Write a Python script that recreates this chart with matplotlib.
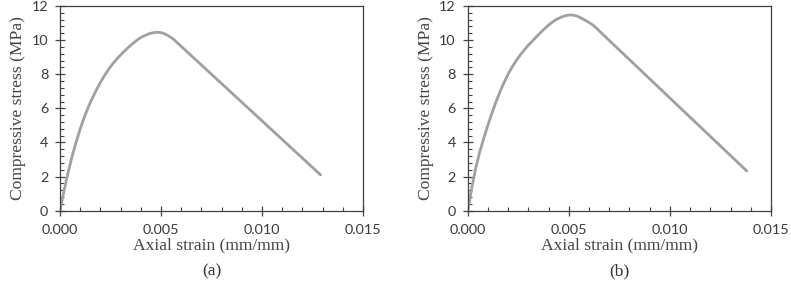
import matplotlib
matplotlib.use('Agg')
import matplotlib.pyplot as plt
from matplotlib.ticker import MultipleLocator, FormatStrFormatter

# panel (a)
strain_a = [0, 0.0002, 0.0004, 0.0006, 0.0008, 0.0010, 0.0012, 0.0014, 0.0016,
            0.0018, 0.0020, 0.0022, 0.0024, 0.0026, 0.0028, 0.0030, 0.0032,
            0.0034, 0.0036, 0.0038, 0.0040, 0.0042, 0.0044, 0.0046, 0.0048,
            0.0050, 0.0052, 0.0054, 0.0056, 0.0129]
stress_a = [0, 1.18, 2.25, 3.20, 4.04, 4.80, 5.48, 6.08, 6.60,
            7.08, 7.52, 7.92, 8.28, 8.60, 8.88, 9.13, 9.37,
            9.59, 9.80, 9.99, 10.15, 10.27, 10.37, 10.43, 10.46,
            10.44, 10.36, 10.23, 10.07, 2.1]

# panel (b)
strain_b = [0, 0.0002, 0.0004, 0.0006, 0.0008, 0.0010, 0.0012, 0.0014, 0.0016,
            0.0018, 0.0020, 0.0022, 0.0024, 0.0026, 0.0028, 0.0030, 0.0032,
            0.0034, 0.0036, 0.0038, 0.0040, 0.0042, 0.0044, 0.0046, 0.0048,
            0.0050, 0.0052, 0.0054, 0.0056, 0.0058, 0.0060, 0.0062, 0.0138]
stress_b = [0, 1.34, 2.52, 3.47, 4.27, 5.02, 5.73, 6.39, 6.98,
            7.52, 8.01, 8.43, 8.80, 9.13, 9.43, 9.70, 9.95,
            10.20, 10.44, 10.67, 10.88, 11.07, 11.22, 11.33, 11.42,
            11.47, 11.47, 11.41, 11.30, 11.17, 11.03, 10.88, 2.33]

panels = [('(a)', strain_a, stress_a, [0.0759, 0.2684, 0.383, 0.7108]),
          ('(b)', strain_b, stress_b, [0.5913, 0.2684, 0.3834, 0.7108])]

tick_col = '#404040'
fig = plt.figure(figsize=(7.91, 2.88), dpi=100)

for tag, x, y, rect in panels:
    ax = fig.add_axes(rect)
    ax.plot(x, y, color='#a0a0a0', lw=2.0, solid_capstyle='round',
            solid_joinstyle='round')
    ax.set_xlim(0, 0.015)
    ax.set_ylim(0, 12)
    ax.xaxis.set_major_locator(MultipleLocator(0.005))
    ax.xaxis.set_minor_locator(MultipleLocator(0.001))
    ax.yaxis.set_major_locator(MultipleLocator(2))
    ax.yaxis.set_minor_locator(MultipleLocator(0.4))
    ax.xaxis.set_major_formatter(FormatStrFormatter('%.3f'))
    ax.tick_params(which='major', direction='inout', length=7, width=0.9,
                   color=tick_col, labelsize=10.4, labelcolor='#3a3a3a')
    ax.tick_params(axis='x', which='major', pad=6)
    ax.tick_params(axis='y', which='major', pad=5)
    ax.tick_params(which='minor', direction='in', length=3, width=0.8,
                   color=tick_col)
    for lab in ax.get_xticklabels() + ax.get_yticklabels():
        lab.set_fontfamily('Lato')
    for sp in ax.spines.values():
        sp.set_color(tick_col)
        sp.set_linewidth(0.9)
    ax.set_xlabel('Axial strain (mm/mm)', family='Liberation Serif',
                  fontsize=12.6, color='#444444', labelpad=1)
    ax.set_ylabel('Compressive stress (MPa)', family='Liberation Serif',
                  fontsize=12.6, color='#444444', labelpad=4)
    ax.text(0.5, -0.255, tag, transform=ax.transAxes, ha='center', va='top',
            family='Liberation Serif', fontsize=12.6, color='#333333')

fig.savefig('out.png', dpi=100)
